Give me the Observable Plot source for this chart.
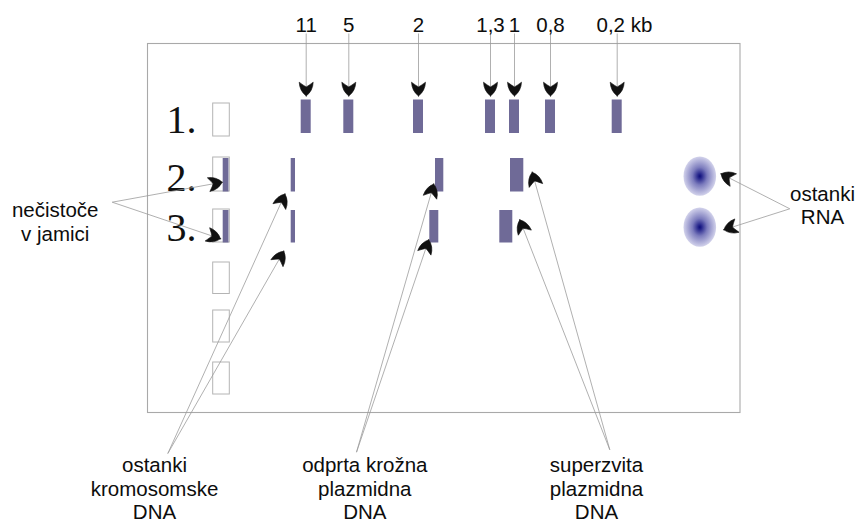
<!DOCTYPE html>
<html><head><meta charset="utf-8">
<script src="https://cdn.jsdelivr.net/npm/d3@7"></script>
<script src="https://cdn.jsdelivr.net/npm/@observablehq/plot@0.6"></script>
<style>html,body{margin:0;padding:0;background:#fff;overflow:hidden}</style>
</head><body><div id="chart"></div>
<script>
// ---- data ----
// Lane 1: DNA size ladder (kb) and band positions along the gel
const ladderLabels = ["11", "5", "2", "1,3", "1", "0,8", "0,2 kb"];
const ladderPos = [305.7, 348.3, 418, 490, 514, 550, 616.7];

// Lanes (numbers and the rows occupied by their bands)
const laneNames = ["1.", "2.", "3."];
const laneTop = [99.5, 158, 210];
const laneBottom = [133, 191.5, 242.5];
const laneLabelY = [132.7, 190, 240.5];

// Wells
const wellTop = [103, 157, 209, 262, 310, 362];
const wellBottom = [136, 191, 242, 293.5, 342, 394];
const wellStart = 212.7, wellEnd = 229.3;

// Sample bands in lanes 2 and 3 (well impurity, chromosomal, open circular, supercoiled)
const sampleLane = [1, 1, 1, 1, 2, 2, 2, 2];
const sampleStart = [222.7, 290.7, 435, 510, 222.7, 290.7, 429.3, 499.3];
const sampleEnd = [228.5, 295, 443.3, 523.3, 228.5, 295, 438.3, 512.3];

// RNA remnants
const rnaX = [699.3, 699.3];
const rnaY = [175.7, 226.7];

// Gel outline
const gelX = [147.5, 740];
const gelY = [43.5, 412.5];

// Annotations
const noteText = ["nečistoče\nv jamici", "ostanki\nkromosomske\nDNA", "odprta krožna\nplazmidna\nDNA", "superzvita\nplazmidna\nDNA", "ostanki\nRNA"];
const noteX = [54.7, 154, 364.3, 596, 822];
const noteY = [240, 518.5, 518.5, 518.5, 223.5];
const noteFromX = [111.7, 167.3, 356, 609.3, 789.3];
const noteFromY = [201.7, 453, 451.7, 449.3, 208.3];
const noteToX = [[221.7, 220], [284.5, 283.3], [433.3, 428.3], [531.7, 519.3], [720.5, 723.3]];
const noteToY = [[181.7, 238.3], [193.5, 250.7], [183.5, 239.3], [171.7, 219.3], [173.3, 229.3]];
const ladderLabelY = 31, ladderArrowTop = 33, ladderArrowTip = 95.5;

// ---- derived tables ----
const ladder = ladderLabels.map((label, i) => ({label, x: ladderPos[i]}));
const wells = wellTop.map((t, i) => ({y1: t, y2: wellBottom[i]}));
const lanes = laneNames.map((name, i) => ({name, y: laneLabelY[i]}));
const ladderBands = ladderPos.map(x => ({x1: x - 5, x2: x + 5, y1: laneTop[0], y2: laneBottom[0]}));
const sampleBands = sampleLane.map((l, i) => ({x1: sampleStart[i], x2: sampleEnd[i], y1: laneTop[l], y2: laneBottom[l]}));
const rna = rnaX.map((x, i) => ({x, y: rnaY[i]}));
const notes = noteText.map((text, i) => ({text, x: noteX[i], y: noteY[i]}));

const pointers = [];
ladder.forEach(d => pointers.push({x1: d.x, y1: ladderArrowTop, x2: d.x, y2: ladderArrowTip}));
noteText.forEach((t, i) => noteToX[i].forEach((tx, j) =>
  pointers.push({x1: noteFromX[i], y1: noteFromY[i], x2: tx, y2: noteToY[i][j]})));
pointers.forEach(p => { p.angle = Math.atan2(p.x2 - p.x1, -(p.y2 - p.y1)) * 180 / Math.PI; });

// ---- shapes ----
const arrowHead = {
  draw(context, l) {
    const w = 7;
    context.moveTo(0, -l);
    context.quadraticCurveTo(-w * 0.95, -l * 0.62, -w, 0.8);
    context.quadraticCurveTo(-w * 0.3, -l * 0.22, 0, -l * 0.3);
    context.quadraticCurveTo(w * 0.3, -l * 0.22, w, 0.8);
    context.quadraticCurveTo(w * 0.95, -l * 0.62, 0, -l);
    context.closePath();
  }
};
const ellipse = {
  draw(context) {
    const rx = 16.3, ry = 19.6, k = 0.5523;
    context.moveTo(rx, 0);
    context.bezierCurveTo(rx, ry * k, rx * k, ry, 0, ry);
    context.bezierCurveTo(-rx * k, ry, -rx, ry * k, -rx, 0);
    context.bezierCurveTo(-rx, -ry * k, -rx * k, -ry, 0, -ry);
    context.bezierCurveTo(rx * k, -ry, rx, -ry * k, rx, 0);
    context.closePath();
  }
};
const defs = () => {
  const d = d3.create("svg:defs");
  const g = d.append("radialGradient").attr("id", "rnaGrad");
  [[0, "#0e0e78"], [0.1, "#22228a"], [0.45, "#7c7cbd"], [1, "#d2d2eb"]].forEach(([o, c]) =>
    g.append("stop").attr("offset", o).attr("stop-color", c));
  return d.node();
};

const sans = "Liberation Sans, Arial, Helvetica, sans-serif";
const textColor = "#0d0d0d";

const chart = Plot.plot({
  width: 862, height: 522, margin: 0,
  x: {domain: [0, 862], range: [0, 862], axis: null},
  y: {domain: [0, 522], range: [0, 522], axis: null},
  style: {background: "white", fontFamily: sans},
  marks: [
    defs,
    Plot.rect([{x1: gelX[0], x2: gelX[1], y1: gelY[0], y2: gelY[1]}], {x1: "x1", x2: "x2", y1: "y1", y2: "y2", fill: "white", stroke: "#a9a9a9", strokeWidth: 1.1}),
    Plot.rect(wells, {x1: wellStart, x2: wellEnd, y1: "y1", y2: "y2", fill: "white", stroke: "#b4b4b4", strokeWidth: 1}),
    Plot.rect(ladderBands, {x1: "x1", x2: "x2", y1: "y1", y2: "y2", fill: "#6f6a97"}),
    Plot.rect(sampleBands, {x1: "x1", x2: "x2", y1: "y1", y2: "y2", fill: "#6f6a97"}),
    Plot.dot(rna, {x: "x", y: "y", symbol: ellipse, r: 18, fill: "url(#rnaGrad)", stroke: "none"}),
    Plot.text(lanes, {x: 166, y: "y", text: "name", textAnchor: "start", lineAnchor: "bottom", fontFamily: "Liberation Serif, Times New Roman, serif", fontSize: 40, fill: "#111"}),
    Plot.link(pointers, {x1: "x1", y1: "y1", x2: "x2", y2: "y2", stroke: "#9c9c9c", strokeWidth: 0.8}),
    Plot.vector(pointers, {x: "x2", y: "y2", rotate: "angle", length: 13, anchor: "end", shape: arrowHead, fill: "#111", stroke: "#111", strokeWidth: 0.6}),
    Plot.text(ladder.slice(0, -1), {x: "x", y: ladderLabelY, text: "label", lineAnchor: "bottom", fontSize: 20.5, fill: textColor}),
    Plot.text(ladder.slice(-1), {x: "x", y: ladderLabelY, text: "label", textAnchor: "start", dx: -20.7, lineAnchor: "bottom", fontSize: 20.5, fill: textColor}),
    Plot.text(notes, {x: "x", y: "y", text: "text", lineAnchor: "bottom", lineHeight: 1.14, fontSize: 20.5, fill: textColor})
  ]
});
document.getElementById("chart").appendChild(chart);
</script>
</body></html>
